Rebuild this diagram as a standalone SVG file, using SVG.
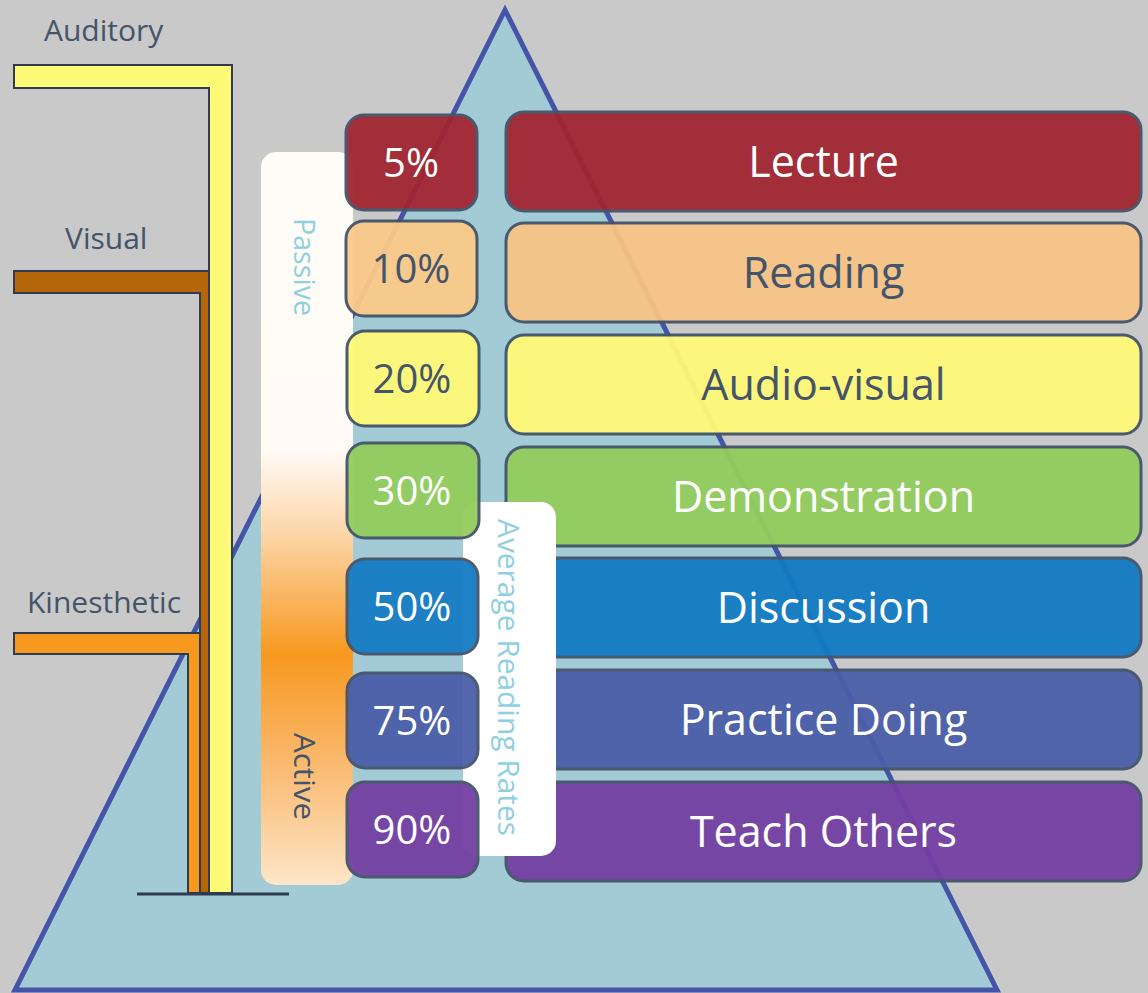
<svg xmlns="http://www.w3.org/2000/svg" width="1148" height="993" viewBox="0 0 1148 993">
  <defs>
    <linearGradient id="passiveActive" x1="0" y1="0" x2="0" y2="1">
      <stop offset="0" stop-color="#fffcf7"/>
      <stop offset="0.41" stop-color="#fffaf4"/>
      <stop offset="0.52" stop-color="#fcd6a8"/>
      <stop offset="0.686" stop-color="#f7981f"/>
      <stop offset="0.83" stop-color="#fab86c"/>
      <stop offset="1" stop-color="#fde6c8"/>
    </linearGradient>
    <style>
      .lbl { font-family: "Open Sans", "Liberation Sans", sans-serif; }
      .side { font-size: 30px; fill: #44546a; }
      .vert { fill: #8fd0e0; }
      .bar { stroke: #2f3b4e; stroke-width: 2; }
      .box { stroke: #44546a; stroke-width: 3; opacity: 0.95; }
      .pct { font-size: 40px; text-anchor: middle; }
      .name { font-size: 43px; text-anchor: middle; }
      .light { fill: #ffffff; }
      .dark { fill: #44546a; }
    </style>
  </defs>

  <rect width="1148" height="993" fill="#c8c9c8"/>

  <!-- pyramid -->
  <g id="pyramid">
    <polygon points="505,10 15,990 997,990" fill="#a2cbd5" stroke="#4454a6" stroke-width="5" stroke-linejoin="miter"/>
  </g>

  <!-- learning-style brackets -->
  <g id="kinesthetic">
    <polygon class="bar" points="14,633 200,633 200,893 188,893 188,654 14,654" fill="#f7981f"/>
    <text class="lbl side" x="27" y="613">Kinesthetic</text>
  </g>
  <g id="visual">
    <polygon class="bar" points="14,271 209,271 209,893 200,893 200,293 14,293" fill="#b5650a"/>
    <text class="lbl side" x="65" y="249">Visual</text>
  </g>
  <g id="auditory">
    <polygon class="bar" points="14,65 232,65 232,893 209,893 209,88 14,88" fill="#fff978"/>
    <text class="lbl side" x="44" y="41">Auditory</text>
  </g>
  <g id="base">
    <line x1="137" y1="894" x2="289" y2="894" stroke="#2f3b4e" stroke-width="3"/>
  </g>

  <!-- passive / active scale -->
  <g id="scale">
    <rect x="261" y="152" width="92" height="733" rx="15" fill="url(#passiveActive)"/>
    <text class="lbl vert" font-size="30" transform="translate(294,218) rotate(90)" textLength="98" lengthAdjust="spacingAndGlyphs">Passive</text>
    <text class="lbl dark" font-size="30" transform="translate(294,733) rotate(90)" textLength="87" lengthAdjust="spacingAndGlyphs">Active</text>
  </g>

  <!-- methods -->
  <g id="methods">
    <g id="lecture">
      <rect class="box" x="506" y="112" width="635" height="99" rx="18" fill="#a12632"/>
      <text class="lbl name light" x="823.5" y="176.5">Lecture</text>
    </g>
    <g id="reading">
      <rect class="box" x="506" y="223" width="635" height="99" rx="18" fill="#f7c487"/>
      <text class="lbl name dark" x="823.5" y="287.5">Reading</text>
    </g>
    <g id="audio-visual">
      <rect class="box" x="506" y="335" width="635" height="99" rx="18" fill="#fffa78"/>
      <text class="lbl name dark" x="823.5" y="399.5">Audio-visual</text>
    </g>
    <g id="demonstration">
      <rect class="box" x="506" y="447" width="635" height="99" rx="18" fill="#93cd5d"/>
      <text class="lbl name light" x="823.5" y="511.5">Demonstration</text>
    </g>
    <g id="discussion">
      <rect class="box" x="506" y="558" width="635" height="99" rx="18" fill="#127ac2"/>
      <text class="lbl name light" x="823.5" y="622.5">Discussion</text>
    </g>
    <g id="practice-doing">
      <rect class="box" x="506" y="670" width="635" height="99" rx="18" fill="#4b5ea8"/>
      <text class="lbl name light" x="823.5" y="734.5">Practice Doing</text>
    </g>
    <g id="teach-others">
      <rect class="box" x="506" y="782" width="635" height="99" rx="18" fill="#743fa3"/>
      <text class="lbl name light" x="823.5" y="846.5">Teach Others</text>
    </g>
  </g>

  <!-- retention caption -->
  <g id="rates-label">
    <rect x="463" y="502" width="93" height="354" rx="15" fill="#ffffff"/>
    <text class="lbl vert" font-size="30" transform="translate(498,519) rotate(90)" textLength="317" lengthAdjust="spacingAndGlyphs">Average Reading Rates</text>
  </g>

  <!-- retention percentages -->
  <g id="rates">
    <g id="rate-5">
      <rect class="box" x="346" y="115" width="131" height="95" rx="18" fill="#a12632"/>
      <text class="lbl pct light" x="411" y="177">5%</text>
    </g>
    <g id="rate-10">
      <rect class="box" x="346" y="221" width="131" height="95" rx="18" fill="#fbc98a"/>
      <text class="lbl pct dark" x="411" y="283">10%</text>
    </g>
    <g id="rate-20">
      <rect class="box" x="347" y="331" width="132" height="95" rx="18" fill="#fffa78"/>
      <text class="lbl pct dark" x="412" y="393">20%</text>
    </g>
    <g id="rate-30">
      <rect class="box" x="347" y="443" width="132" height="95" rx="18" fill="#93cd5d"/>
      <text class="lbl pct light" x="412" y="505">30%</text>
    </g>
    <g id="rate-50">
      <rect class="box" x="347" y="559" width="131" height="95" rx="18" fill="#167bc4"/>
      <text class="lbl pct light" x="412" y="621">50%</text>
    </g>
    <g id="rate-75">
      <rect class="box" x="347" y="673" width="131" height="95" rx="18" fill="#4b5ea8"/>
      <text class="lbl pct light" x="412" y="735">75%</text>
    </g>
    <g id="rate-90">
      <rect class="box" x="347" y="782" width="131" height="95" rx="18" fill="#743fa3"/>
      <text class="lbl pct light" x="412" y="844">90%</text>
    </g>
  </g>
</svg>
